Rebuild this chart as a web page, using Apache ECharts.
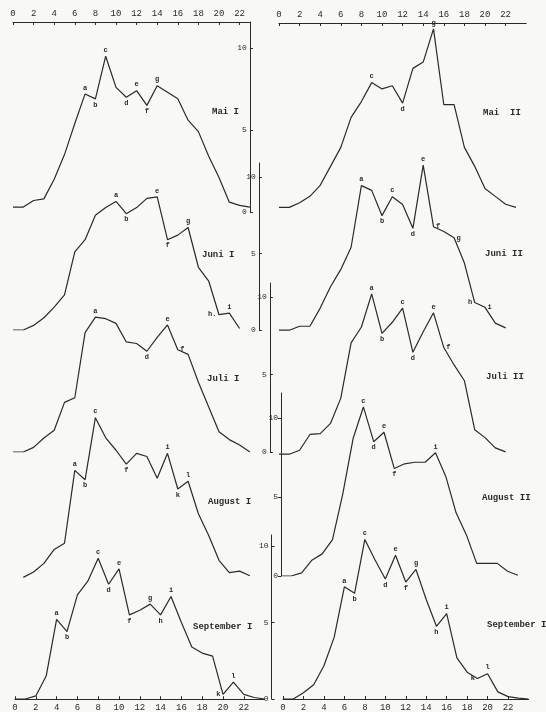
<!DOCTYPE html>
<html><head><meta charset="utf-8">
<script src="https://cdn.jsdelivr.net/npm/echarts@6/dist/echarts.min.js"></script>
<style>html,body{margin:0;padding:0;background:#f8f8f6}#c{width:546px;height:712px}</style>
</head><body><div id="c"></div>
<script>
// ---- tick labels ----
const hourTicks = [0, 2, 4, 6, 8, 10, 12, 14, 16, 18, 20, 22];
const yTicks = [0, 5, 10];

// ---- series values, index = hour of day ----
const maiI = [0.3,0.3,0.7,0.8,2.0,3.5,5.4,7.2,6.9,9.5,7.6,7.0,7.4,6.5,7.7,7.3,6.9,5.6,4.9,3.4,2.1,0.6,0.4,0.3];
const juniI = [0,0,0.3,0.8,1.5,2.3,5.1,5.9,7.5,8.0,8.4,7.6,8.0,8.6,8.7,5.9,6.2,6.7,4.1,3.2,1.0,1.1,0.1];
const juliI = [0,0,0.3,0.9,1.4,3.2,3.5,7.7,8.7,8.6,8.3,7.1,7.0,6.5,7.4,8.2,6.6,6.3,4.5,2.9,1.3,0.8,0.45,0];
const augustI = [null,0.3,0.65,1.2,2.1,2.5,7.2,6.6,10.6,9.3,8.5,7.6,8.3,8.1,6.7,8.3,6.0,6.5,4.4,3.0,1.4,0.6,0.7,0.4];
const septemberI = [0,0,0.2,1.5,5.2,4.4,6.8,7.7,9.2,7.5,8.5,5.5,5.8,6.2,5.5,6.7,5.0,3.4,3.0,2.8,0.3,1.1,0.3,0.1,0];
const maiII = [0.1,0.1,0.4,0.8,1.5,2.7,3.9,5.8,6.8,8.0,7.6,7.8,6.7,8.9,9.3,11.4,6.6,6.6,3.9,2.7,1.3,0.8,0.3,0.1];
const juniII = [0.05,0.05,0.3,0.3,1.45,2.8,3.9,5.3,9.2,8.9,7.3,8.5,8.0,6.5,10.5,6.6,6.3,5.9,4.3,1.8,1.5,0.5,0.2];
const juliII = [0.05,0.05,0.3,1.3,1.35,2.0,3.6,7.1,8.1,10.2,7.7,8.4,9.3,6.5,7.8,9.0,6.8,5.7,4.7,1.6,1.1,0.45,0.2];
const augustII = [0,0,0.2,1.0,1.4,2.3,5.2,8.7,10.7,8.5,9.1,6.8,7.1,7.2,7.2,7.8,6.3,4.0,2.6,0.8,0.8,0.8,0.3,0.05];
const septemberII = [0,0,0.4,0.9,2.1,3.9,7.1,6.7,10.1,8.8,7.6,9.1,7.4,8.2,6.3,4.6,5.4,2.6,1.7,1.3,1.6,0.45,0.15,0.05,0];

// ---- point letters: [hour, letter] ----
const maiILetters = [[7,'a'],[8,'b'],[9,'c'],[11,'d'],[12,'e'],[13,'f'],[14,'g']];
const juniILetters = [[10,'a'],[11,'b'],[14,'e'],[15,'f'],[17,'g'],[20,'h.'],[21,'i']];
const juliILetters = [[8,'a'],[13,'d'],[15,'e'],[16,'f']];
const augustILetters = [[6,'a'],[7,'b'],[8,'c'],[11,'f'],[15,'i'],[16,'k'],[17,'l']];
const septemberILetters = [[4,'a'],[5,'b'],[8,'c'],[9,'d'],[10,'e'],[11,'f'],[13,'g'],[14,'h'],[15,'i'],[20,'k'],[21,'l']];
const maiIILetters = [[9,'c'],[12,'d'],[15,'g']];
const juniIILetters = [[8,'a'],[10,'b'],[11,'c'],[13,'d'],[14,'e'],[15,'f'],[17,'g'],[19,'h'],[20,'i']];
const juliIILetters = [[9,'a'],[10,'b'],[12,'c'],[13,'d'],[15,'e'],[16,'f']];
const augustIILetters = [[8,'c'],[9,'d'],[10,'e'],[11,'f'],[15,'i']];
const septemberIILetters = [[6,'a'],[7,'b'],[8,'c'],[10,'d'],[11,'e'],[12,'f'],[13,'g'],[15,'h'],[16,'i'],[19,'k'],[20,'l']];

// ---- layout (pixels) ----
const ink = '#2a2a2a';
const mono = '"Liberation Mono","DejaVu Sans Mono",monospace';
const panels = [
  {name:'Mai I', values:maiI, letters:maiILetters, left:13, pph:10.3, xMax:23, zeroY:212, scale:16.4, axisTop:22, axisPos:'right', offset:0, lx:212, ly:112},
  {name:'Juni I', values:juniI, letters:juniILetters, left:13, pph:10.3, xMax:23, zeroY:330, scale:15.3, axisTop:163, axisPos:'right', offset:9, lx:202, ly:255},
  {name:'Juli I', values:juliI, letters:juliILetters, left:13, pph:10.3, xMax:23, zeroY:452, scale:15.5, axisTop:283, axisPos:'right', offset:20, lx:207, ly:379},
  {name:'August I', values:augustI, letters:augustILetters, left:13, pph:10.3, xMax:23, zeroY:582, scale:15.5, lx:208, ly:502},
  {name:'September I', values:septemberI, letters:septemberILetters, left:15, pph:10.4, xMax:24, zeroY:699, scale:15.3, axisTop:535, axisPos:'right', offset:7, lx:193, ly:627},
  {name:'Mai  II', values:maiII, letters:maiIILetters, left:279, pph:10.3, xMax:24, zeroY:209, scale:15.8, lx:483, ly:113},
  {name:'Juni II', values:juniII, letters:juniIILetters, left:279, pph:10.3, xMax:24, zeroY:331, scale:15.8, lx:485, ly:254},
  {name:'Juli II', values:juliII, letters:juliIILetters, left:279, pph:10.3, xMax:24, zeroY:455, scale:15.8, lx:486, ly:377},
  {name:'August II', values:augustII, letters:augustIILetters, left:281, pph:10.3, xMax:24, zeroY:576, scale:15.8, axisTop:393, axisPos:'left', offset:0, lx:482, ly:498},
  {name:'September I', values:septemberII, letters:septemberIILetters, left:283, pph:10.23, xMax:24, zeroY:699, scale:15.8, lx:487, ly:625}
];
const labelSide = {'Juni II|h':'left', 'September I|k':'left', 'Juni I|h.':'left'};

const grid = [], xAxis = [], yAxis = [], series = [], graphic = [];

panels.forEach((p, i) => {
  const yMax = p.axisTop ? (p.zeroY - p.axisTop) / p.scale : 12;
  grid.push({left: p.left, top: p.zeroY - yMax * p.scale, width: p.xMax * p.pph, height: yMax * p.scale});
  xAxis.push({gridIndex: i, type: 'value', min: 0, max: p.xMax, show: false});
  yAxis.push({
    gridIndex: i, type: 'value', min: 0, max: yMax, show: !!p.axisPos,
    position: p.axisPos || 'right', offset: p.offset || 0,
    axisLine: {show: true, onZero: false, lineStyle: {color: ink, width: 1}},
    axisTick: {show: true, customValues: yTicks, length: 3, lineStyle: {color: ink}},
    axisLabel: {customValues: yTicks, inside: p.axisPos === 'right', margin: 3, fontSize: 8, fontFamily: mono, color: ink},
    splitLine: {show: false}
  });
  const letterMap = {};
  p.letters.forEach(([h, t]) => { letterMap[h] = t; });
  const data = [];
  p.values.forEach((v, h) => {
    if (v === null) return;
    const item = {value: [h, v]};
    if (letterMap[h] !== undefined) {
      const prev = p.values[h - 1], next = p.values[h + 1];
      let pos = 'right';
      const pv = (prev === null || prev === undefined) ? -1 : prev;
      const nv = (next === null || next === undefined) ? -1 : next;
      if (v >= pv && v >= nv) pos = 'top';
      else if (v <= pv && v <= nv) pos = 'bottom';
      const key = p.name + '|' + letterMap[h];
      if (labelSide[key]) pos = labelSide[key];
      item.label = {show: true, formatter: letterMap[h], position: pos, distance: 2,
        fontSize: 7, fontFamily: mono, color: ink, fontWeight: 'bold'};
    }
    data.push(item);
  });
  series.push({type: 'line', xAxisIndex: i, yAxisIndex: i, data, symbol: 'circle', symbolSize: 1,
    showSymbol: true, showAllSymbol: true, itemStyle: {color: 'rgba(0,0,0,0)'},
    lineStyle: {color: ink, width: 1.2}, label: {show: false}, silent: true, animation: false});
  graphic.push({type: 'text', x: p.lx, y: p.ly, silent: true,
    style: {text: p.name, font: 'bold 9px ' + mono, fill: ink, align: 'left', verticalAlign: 'middle'}});
});

// ---- hour axes (top and bottom of each column) ----
const hourAxes = [
  {left: 13, width: 23 * 10.3, max: 23, top: 22, pos: 'top'},
  {left: 279, width: 24 * 10.3, max: 24, top: 23, pos: 'top'},
  {left: 15, width: 24 * 10.4, max: 24, top: 699, pos: 'bottom'},
  {left: 283, width: 24 * 10.23, max: 24, top: 698, pos: 'bottom'}
];
hourAxes.forEach(a => {
  const gi = grid.length;
  grid.push({left: a.left, top: a.top, width: a.width, height: 1});
  xAxis.push({gridIndex: gi, type: 'value', min: 0, max: a.max, position: a.pos,
    axisLine: {show: true, onZero: false, lineStyle: {color: ink, width: 1.2}},
    axisTick: {show: true, customValues: hourTicks, inside: true, length: 3, lineStyle: {color: ink}},
    axisLabel: {customValues: hourTicks, margin: 4, fontSize: 9, fontFamily: mono, color: ink},
    splitLine: {show: false}});
  yAxis.push({gridIndex: gi, type: 'value', min: 0, max: 1, show: false});
});

const chart = echarts.init(document.getElementById('c'), null, {renderer: 'canvas'});
chart.setOption({backgroundColor: '#f8f8f6', animation: false, grid, xAxis, yAxis, series, graphic});
</script></body></html>
